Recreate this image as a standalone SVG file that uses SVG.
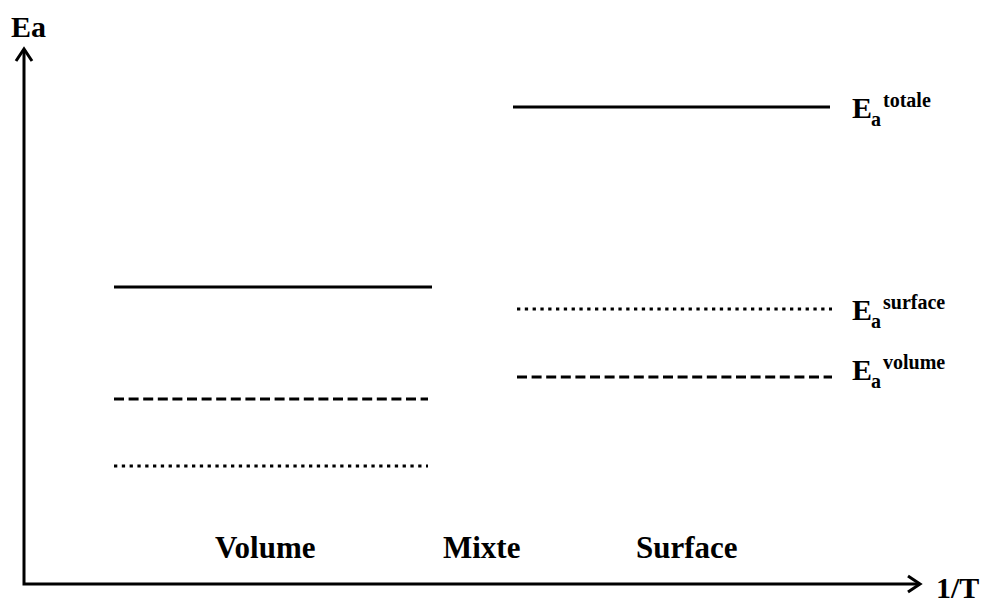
<svg xmlns="http://www.w3.org/2000/svg" width="984" height="603" viewBox="0 0 984 603">
<defs>
<style>
text{font-family:"Liberation Serif","Times New Roman",serif;font-weight:bold;fill:#000}
.big{font-size:30px}
.lab{font-size:31px}
.sub{font-size:20px}
.ax{stroke:#000;stroke-width:3;fill:none}
.sol{stroke:#000;stroke-width:3}
.dash{stroke:#000;stroke-width:3;stroke-dasharray:10 4.6}
.dot{stroke:#000;stroke-width:3;stroke-dasharray:3.3 4.5}
</style>
</defs>
<rect width="984" height="603" fill="#fff"/>
<g id="axes">
<polyline class="ax" points="24,49 24,584 920,584"/>
<polyline class="ax" points="16,61 24,49 32,61"/>
<polyline class="ax" points="908,576 920,584 908,592"/>
<text class="big" x="11" y="37">Ea</text>
<text class="big" x="936" y="598">1/T</text>
</g>
<g id="levels">
<line class="sol" x1="114" y1="287" x2="432" y2="287"/>
<line class="dash" x1="114" y1="399" x2="428" y2="399"/>
<line class="dot" x1="114" y1="466" x2="428" y2="466"/>
<line class="sol" x1="513" y1="107" x2="830" y2="107"/>
<line class="dot" x1="517" y1="309" x2="832" y2="309"/>
<line class="dash" x1="517" y1="377" x2="832" y2="377"/>
</g>
<g id="label-totale">
<text class="big" x="852" y="118">E</text>
<text class="sub" x="871" y="126">a</text>
<text class="sub" x="883" y="107">totale</text>
</g>
<g id="label-surface">
<text class="big" x="852" y="320">E</text>
<text class="sub" x="871" y="328">a</text>
<text class="sub" x="883" y="309">surface</text>
</g>
<g id="label-volume">
<text class="big" x="852" y="380">E</text>
<text class="sub" x="871" y="388">a</text>
<text class="sub" x="883" y="369">volume</text>
</g>
<g id="regimes">
<text class="lab" x="215" y="558">Volume</text>
<text class="lab" x="443" y="558">Mixte</text>
<text class="lab" x="636" y="558">Surface</text>
</g>
</svg>
